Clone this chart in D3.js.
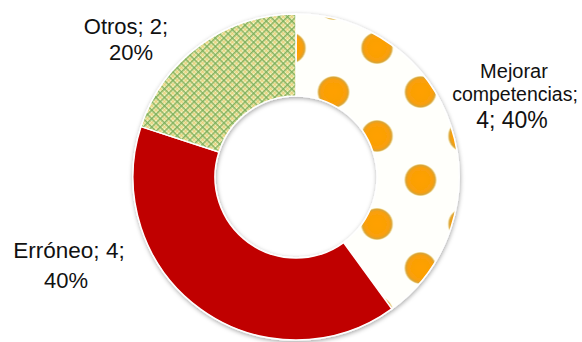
<!DOCTYPE html>
<html><head><meta charset="utf-8">
<script src="https://cdn.jsdelivr.net/npm/d3@7"></script>
<style>html,body{margin:0;padding:0;background:#fff;}svg{display:block;}</style>
</head><body>
<svg id="chart" width="582" height="342"></svg>
<script>
// ---- data ----
const categories = ["Mejorar competencias", "Erróneo", "Otros"];
const values = [4, 4, 2];
const labelLines = [
  ["Mejorar", "competencias;", "4; 40%"],
  ["Erróneo; 4;", "40%"],
  ["Otros; 2;", "20%"]
];

// ---- layout ----
const W = 582, H = 342;
const cx = 296, cy = 177, outerR = 163, innerR = 81;
const labelPos = [
  {xs: [514, 515, 512], ys: [78, 101, 128], sizes: [20, 19.5, 23]},
  {xs: [69, 66], ys: [258, 288], sizes: [22.5, 22]},
  {xs: [126, 131], ys: [34, 60], sizes: [22, 22]}
];

const svg = d3.select("#chart");
const defs = svg.append("defs");

// dots pattern (coords relative to donut centre)
const dots = defs.append("pattern").attr("id", "dots")
  .attr("patternUnits", "userSpaceOnUse")
  .attr("x", 333.5 - cx).attr("y", 4 - cy).attr("width", 87).attr("height", 88);
dots.append("rect").attr("width", 87).attr("height", 88).attr("fill", "#fffffb");
const rg = defs.append("radialGradient").attr("id", "dotg");
rg.append("stop").attr("offset", "0%").attr("stop-color", "#ffa000");
rg.append("stop").attr("offset", "78%").attr("stop-color", "#f99f08");
rg.append("stop").attr("offset", "92%").attr("stop-color", "#d9a238");
rg.append("stop").attr("offset", "100%").attr("stop-color", "#f5e7a8");
[[43.5, 44], [0, 0], [87, 0], [0, 88], [87, 88]].forEach(([x, y]) => {
  dots.append("circle").attr("cx", x).attr("cy", y).attr("r", 16).attr("fill", "url(#dotg)");
});

// plaid pattern
const plaid = defs.append("pattern").attr("id", "plaid")
  .attr("patternUnits", "userSpaceOnUse")
  .attr("width", 6).attr("height", 6)
  .attr("patternTransform", "rotate(45)");
plaid.append("rect").attr("width", 6).attr("height", 6).attr("fill", "#f0f6c4");
plaid.append("rect").attr("x", 3).attr("y", 0).attr("width", 1.2).attr("height", 6).attr("fill", "#e6c870").attr("opacity", 0.75);
plaid.append("rect").attr("x", 0).attr("y", 3).attr("width", 6).attr("height", 1.2).attr("fill", "#e6c870").attr("opacity", 0.75);
plaid.append("rect").attr("x", 0).attr("y", 0).attr("width", 1.5).attr("height", 6).attr("fill", "#78ab55").attr("opacity", 0.85);
plaid.append("rect").attr("x", 0).attr("y", 0).attr("width", 6).attr("height", 1.5).attr("fill", "#78ab55").attr("opacity", 0.85);

// shadow
const f = defs.append("filter").attr("id", "shadow")
  .attr("x", "-10%").attr("y", "-10%").attr("width", "120%").attr("height", "120%");
f.append("feDropShadow").attr("dx", 0.5).attr("dy", 1.5).attr("stdDeviation", 2)
  .attr("flood-color", "#000").attr("flood-opacity", 0.35);

const fills = ["url(#dots)", "#c00000", "url(#plaid)"];

const pie = d3.pie().sort(null).value(d => d).startAngle(0).endAngle(2 * Math.PI);
const arc = d3.arc().innerRadius(innerR).outerRadius(outerR);
const arcs = pie(values);

const g = svg.append("g").attr("filter", "url(#shadow)");
g.selectAll("path").data(arcs).join("path")
  .attr("transform", `translate(${cx},${cy})`)
  .attr("d", arc)
  .attr("fill", (d, i) => fills[i])
  .attr("stroke", "#ffffff")
  .attr("stroke-width", 1.5);

// labels
const lg = svg.append("g").attr("font-family", "'Liberation Sans', Arial, sans-serif").attr("fill", "#111");
labelLines.forEach((lines, i) => {
  const p = labelPos[i];
  lines.forEach((ln, j) => {
    lg.append("text").attr("text-anchor", "middle")
      .attr("font-size", p.sizes[j])
      .attr("x", p.xs[j]).attr("y", p.ys[j]).text(ln);
  });
});
</script>
</body></html>
